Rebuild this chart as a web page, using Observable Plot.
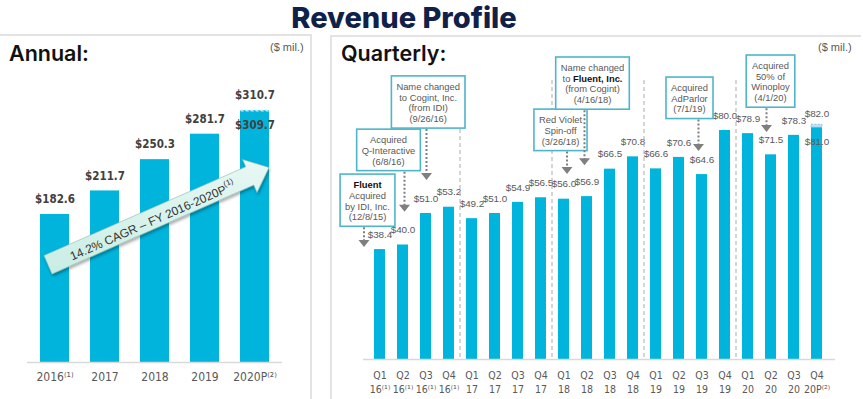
<!DOCTYPE html>
<html>
<head>
<meta charset="utf-8">
<script src="https://cdn.jsdelivr.net/npm/d3@7"></script>
<script src="https://cdn.jsdelivr.net/npm/@observablehq/plot@0.6"></script>
<style>
html,body{margin:0;padding:0;background:#fff;}
#page{position:relative;width:863px;height:399px;overflow:hidden;font-family:"Liberation Sans",Arial,sans-serif;}
#title{position:absolute;left:0;width:808px;top:3px;text-align:center;font:800 29px/29px Inter,Lato,sans-serif;color:#0f2149;}
#leftPanel{position:absolute;left:-4px;top:34px;width:314px;height:420px;border-top:2px solid #e3e3e3;border-right:2px solid #e3e3e3;}
#rightPanel{position:absolute;left:330px;top:35px;width:529px;height:420px;border-top:2px solid #e3e3e3;border-left:2px solid #e3e3e3;}
.head{position:absolute;top:43px;font:600 21.5px/21.5px Inter,Lato,sans-serif;color:#111;}
.unit{position:absolute;top:42px;font:11px/11px "Liberation Sans",Arial,sans-serif;color:#595959;}
#annual,#quarterly{position:absolute;top:0;}
#annual{left:0;}
#quarterly{left:312px;}
svg{background:transparent !important;overflow:visible;}
</style>
</head>
<body>
<div id="page">
  <div id="leftPanel"></div>
  <div id="rightPanel"></div>
  <div id="title">Revenue Profile</div>
  <div class="head" style="left:9px">Annual:</div>
  <div class="head" style="left:341px">Quarterly:</div>
  <div class="unit" style="left:270px">($ mil.)</div>
  <div class="unit" style="left:818px">($ mil.)</div>
  <div id="annual"></div>
  <div id="quarterly"></div>
</div>
<script>
// ---------- DATA ----------
const years = ["2016", "2017", "2018", "2019", "2020P"];
const yearNotes = ["⁽¹⁾", "", "", "", "⁽²⁾"];
const annualRevenue = [182.6, 211.7, 250.3, 281.7, 309.7];
const annualProjectedHigh = 310.7;
const cagrText = "14.2% CAGR – FY 2016-2020P";
const cagrNote = "(1)";

const quarters = ["Q1 16","Q2 16","Q3 16","Q4 16","Q1 17","Q2 17","Q3 17","Q4 17",
                  "Q1 18","Q2 18","Q3 18","Q4 18","Q1 19","Q2 19","Q3 19","Q4 19",
                  "Q1 20","Q2 20","Q3 20","Q4 20"];
const quarterTicks = ["Q1\n16⁽¹⁾","Q2\n16⁽¹⁾","Q3\n16⁽¹⁾","Q4\n16⁽¹⁾","Q1\n17","Q2\n17","Q3\n17","Q4\n17",
                      "Q1\n18","Q2\n18","Q3\n18","Q4\n18","Q1\n19","Q2\n19","Q3\n19","Q4\n19",
                      "Q1\n20","Q2\n20","Q3\n20","Q4\n20P⁽²⁾"];
const quarterlyRevenue = [38.4, 40.0, 51.0, 53.2, 49.2, 51.0, 54.9, 56.5,
                          56.0, 56.9, 66.5, 70.8, 66.6, 70.6, 64.6, 80.0,
                          78.9, 71.5, 78.3, 81.0];
const quarterlyProjectedHigh = 82.0;
const yearEnds = ["Q4 16", "Q4 17", "Q4 18", "Q4 19"];

const eventQuarters = ["Q1 16", "Q2 16", "Q3 16", "Q1 18", "Q2 18", "Q3 19", "Q2 20"];
const eventLines = [
  ["**Fluent**", "Acquired", "by IDI, Inc.", "(12/8/15)"],
  ["Acquired", "Q-Interactive", "(6/8/16)"],
  ["Name changed", "to Cogint, Inc.", "(from IDI)", "(9/26/16)"],
  ["Red Violet", "Spin-off", "(3/26/18)"],
  ["Name changed", "to **Fluent, Inc.**", "(from Cogint)", "(4/16/18)"],
  ["Acquired", "AdParlor", "(7/1/19)"],
  ["Acquired", "50% of", "Winoploy", "(4/1/20)"]
];
// callout placement (value units for heights, pixels for small horizontal nudges)
const eventBoxTop = [64.6, 80.3, 98.9, 87.3, 105.5, 98.5, 106.2];
const eventTip = [39.1, 51.4, 62.5, 64.6, 67.7, 72.7, 79.3];
const eventBoxDx = [-12, -14, 2.7, -3, 6, -12, 0];
const eventArrowDx = [-15.5, 2, 1, 3.5, -2, -3, -4];

// ---------- STYLE ----------
const BAR = "#00b4dc";
const NARROW = '"Liberation Sans Narrow","DejaVu Sans Condensed","Liberation Sans",sans-serif';
const SANS = '"Liberation Sans",Arial,sans-serif';
const GREY = "#595959";

// ---------- ANNUAL ----------
const annualData = years.map((y, i) => ({year: y, note: yearNotes[i], value: annualRevenue[i]}));
const last = annualData[annualData.length - 1];

const annual = Plot.plot({
  width: 312, height: 399,
  marginLeft: 27, marginRight: 30, marginTop: 0, marginBottom: 37,
  x: {domain: years, range: [16, 292], padding: 0.43, axis: null},
  y: {domain: [0, 309.7], range: [362, 111], axis: null},
  marks: [
    Plot.barY(annualData, {x: "year", y: "value", fill: BAR}),
    Plot.rectY([last], {x: "year", y1: "value", y2: () => annualProjectedHigh, fill: BAR,
      stroke: "#c5ecf7", strokeDasharray: "3,2", strokeWidth: 1}),
    Plot.ruleY([0], {stroke: "#d9d9d9", strokeWidth: 1.5}),
    Plot.text(annualData.slice(0, -1), {x: "year", y: "value", text: d => "$" + d.value.toFixed(1),
      dy: -15, fontWeight: "bold", fontSize: 11.5, fill: "#404040", fontFamily: NARROW}),
    Plot.text([last], {x: "year", y: () => annualProjectedHigh, text: () => "$" + annualProjectedHigh.toFixed(1),
      dy: -15, fontWeight: "bold", fontSize: 11.5, fill: "#404040", fontFamily: NARROW}),
    Plot.text([last], {x: "year", y: "value", text: d => "$" + d.value.toFixed(1),
      dy: 14, fontWeight: "bold", fontSize: 11.5, fill: "#404040", fontFamily: NARROW}),
    Plot.text(annualData, {x: "year", y: () => 0, text: d => d.year + d.note,
      dy: 15, fontSize: 12, fill: GREY, fontFamily: NARROW})
  ]
});
document.getElementById("annual").appendChild(annual);

// CAGR arrow drawn through the annual scales
{
  const xs = annual.scale("x"), ys = annual.scale("y");
  const bw = xs.bandwidth;
  const T = [xs.apply("2016") + 8, ys.apply(120)];
  const P = [xs.apply("2020P") + bw, ys.apply(240)];
  const L = Math.hypot(P[0] - T[0], P[1] - T[1]);
  const u = [(P[0] - T[0]) / L, (P[1] - T[1]) / L];
  const n = [-u[1], u[0]];
  const bodyW = 10, headW = 18, headL = 21;
  const at = (s, w) => [T[0] + u[0] * s + n[0] * w, T[1] + u[1] * s + n[1] * w];
  const pts = [at(0, -bodyW), at(L - headL, -bodyW), at(L - headL, -headW), P,
               at(L - headL, headW), at(L - headL, bodyW), at(0, bodyW)];
  const svg = d3.select(annual);
  const defs = svg.append("defs");
  const g = defs.append("linearGradient").attr("id", "mint").attr("x1", 0).attr("y1", 0).attr("x2", 0).attr("y2", 1);
  g.append("stop").attr("offset", 0).attr("stop-color", "#e9f8f4");
  g.append("stop").attr("offset", 1).attr("stop-color", "#c8ede4");
  const f = defs.append("filter").attr("id", "shadow").attr("x", "-10%").attr("y", "-10%").attr("width", "130%").attr("height", "140%");
  f.append("feDropShadow").attr("dx", 1).attr("dy", 2).attr("stdDeviation", 1.5).attr("flood-color", "#000").attr("flood-opacity", 0.35);
  svg.append("polygon").attr("points", pts.map(p => p.join(",")).join(" "))
    .attr("fill", "url(#mint)").attr("stroke", "#8fb8ae").attr("stroke-width", 0.6).attr("filter", "url(#shadow)");
  const ang = Math.atan2(u[1], u[0]) * 180 / Math.PI;
  const c = at(L * 0.47, 2);
  const t = svg.append("text").attr("transform", `translate(${c[0]},${c[1]}) rotate(${ang})`)
    .attr("text-anchor", "middle").attr("dominant-baseline", "central")
    .attr("font-family", SANS).attr("font-size", 12).attr("fill", "#333");
  t.append("tspan").text(cagrText);
  t.append("tspan").attr("font-size", 8).attr("dy", -5).text(cagrNote);
}

// ---------- QUARTERLY ----------
const qData = quarters.map((q, i) => ({q, tick: quarterTicks[i], value: quarterlyRevenue[i]}));
const qLast = qData[qData.length - 1];

const quarterly = Plot.plot({
  width: 551, height: 399,
  marginLeft: 51, marginRight: 28, marginTop: 0, marginBottom: 40,
  x: {domain: quarters, range: [43.4, 528.6], padding: 0.535, axis: null},
  y: {domain: [0, 80], range: [359, 130], axis: null},
  marks: [
    Plot.barY(qData, {x: "q", y: "value", fill: BAR}),
    Plot.rectY([qLast], {x: "q", y1: "value", y2: () => quarterlyProjectedHigh, fill: "#bfe3f2",
      stroke: "#7fb3dc", strokeDasharray: "2,1.5", strokeWidth: 0.8}),
    Plot.ruleY([0], {stroke: "#d9d9d9", strokeWidth: 1.5}),
    Plot.text(qData.slice(0, -1), {x: "q", y: "value", text: d => "$" + d.value.toFixed(1),
      dy: -15, fontSize: 9.9, fill: GREY, fontFamily: SANS}),
    Plot.text([qLast], {x: "q", y: () => quarterlyProjectedHigh, text: () => "$" + quarterlyProjectedHigh.toFixed(1),
      dy: -11, fontSize: 9.9, fill: GREY, fontFamily: SANS}),
    Plot.text([qLast], {x: "q", y: "value", text: d => "$" + d.value.toFixed(1),
      dy: 14, fontSize: 9.9, fill: GREY, fontFamily: SANS}),
    Plot.text(qData, {x: "q", y: () => 0, text: "tick", dy: 22, lineHeight: 1.33,
      fontSize: 10.5, fill: GREY, fontFamily: NARROW})
  ]
});
document.getElementById("quarterly").appendChild(quarterly);

{
  const xs = quarterly.scale("x"), ys = quarterly.scale("y");
  const bw = xs.bandwidth, step = xs.step;
  const cx = q => xs.apply(q) + bw / 2;
  const svg = d3.select(quarterly);
  // year separators
  const breakTop = 97.5;
  const gb = svg.append("g");
  yearEnds.forEach(q => {
    const x = cx(q) + step / 2;
    gb.append("line").attr("x1", x).attr("x2", x).attr("y1", ys.apply(breakTop)).attr("y2", ys.apply(0))
      .attr("stroke", "#b3b3b3").attr("stroke-width", 1.1).attr("stroke-dasharray", "4,3");
  });
  // callouts
  const lineH = 10.7, pad = 4.7, fs = 9.4;
  const ga = svg.append("g");
  eventQuarters.forEach((q, i) => {
    const ax = cx(q) + eventArrowDx[i];
    const top = ys.apply(eventBoxTop[i]);
    const lines = eventLines[i];
    const h = pad * 2 + lineH * lines.length;
    const tip = ys.apply(eventTip[i]);
    ga.append("line").attr("x1", ax).attr("x2", ax).attr("y1", top + h + 1).attr("y2", tip - 6)
      .attr("stroke", "#7f7f7f").attr("stroke-width", 2).attr("stroke-dasharray", "2,2");
    ga.append("polygon").attr("points", `${ax - 5.5},${tip - 7} ${ax + 5.5},${tip - 7} ${ax},${tip}`).attr("fill", "#7f7f7f");
    const box = ga.append("g");
    const rect = box.append("rect");
    const bx = cx(q) + eventBoxDx[i];
    let maxW = 0;
    lines.forEach((ln, j) => {
      const t = box.append("text").attr("x", bx).attr("y", top + pad + lineH * (j + 0.5))
        .attr("text-anchor", "middle").attr("dominant-baseline", "central")
        .attr("font-family", SANS).attr("font-size", fs).attr("fill", GREY);
      ln.split(/(\*\*[^*]+\*\*)/).filter(s => s).forEach(seg => {
        if (seg.startsWith("**")) t.append("tspan").attr("font-weight", "bold").attr("fill", "#111").text(seg.slice(2, -2));
        else t.append("tspan").text(seg);
      });
      maxW = Math.max(maxW, t.node().getComputedTextLength());
    });
    const w = maxW + 10;
    rect.attr("x", bx - w / 2).attr("y", top).attr("width", w).attr("height", h)
      .attr("fill", "#fff").attr("stroke", "#4fb5c9").attr("stroke-width", 1.6);
  });
}
</script>
</body>
</html>
